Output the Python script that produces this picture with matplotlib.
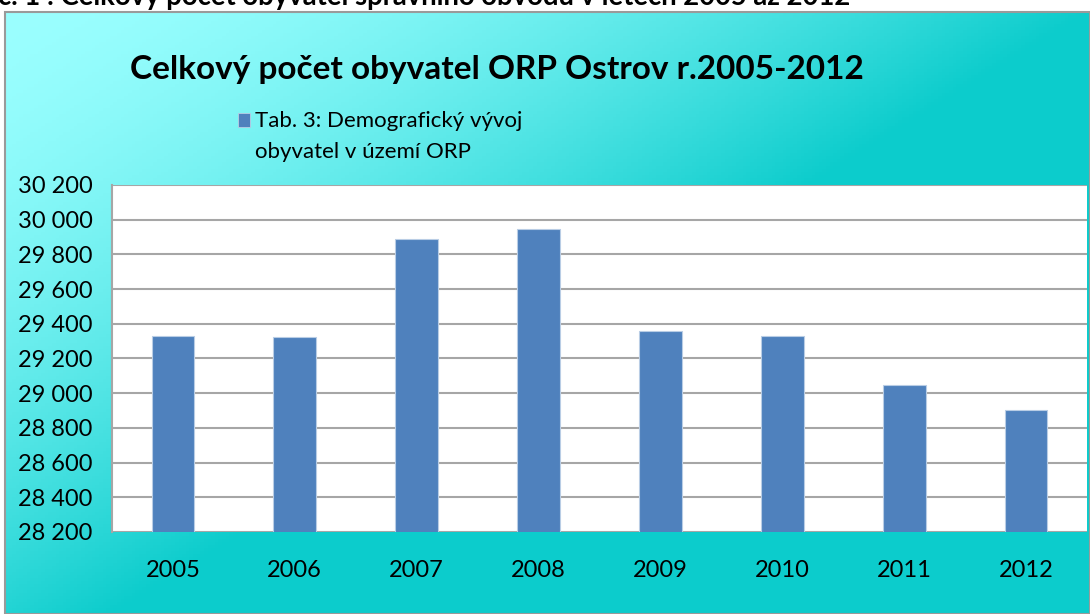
import numpy as np
import matplotlib
matplotlib.use("Agg")
import matplotlib.pyplot as plt
from matplotlib.patches import Rectangle
from matplotlib.ticker import FuncFormatter, MultipleLocator

years = ["2005", "2006", "2007", "2008", "2009", "2010", "2011", "2012"]
population = [29330, 29324, 29887, 29945, 29359, 29330, 29047, 28901]
title = "Celkový počet obyvatel ORP Ostrov r.2005-2012"
legend_lines = ["Tab. 3: Demografický vývoj", "obyvatel v území ORP"]
caption = "č. 1 : Celkový počet obyvatel správního obvodu v letech 2005 až 2012"

plt.rcParams['font.family'] = ['Lato', 'DejaVu Sans']

W, H = 1090, 614
fig = plt.figure(figsize=(W / 100, H / 100), dpi=100)
fig.patch.set_facecolor("white")
BAR_COLOR = "#4F81BD"

# gradient background of chart area
bg = fig.add_axes([5 / W, 0, 1 - 5 / W, 1 - 12 / H])
bg.set_axis_off()
nx, ny = 300, 200
xx, yy = np.meshgrid(np.linspace(0, 1, nx), np.linspace(0, 1, ny))
t = np.clip(1.0 * xx + 0.9 * yy, 0, 1) ** 1.6
c0 = np.array([155, 255, 255]) / 255
c1 = np.array([12, 204, 204]) / 255
img = c0[None, None, :] * (1 - t[..., None]) + c1[None, None, :] * t[..., None]
bg.imshow(img, aspect="auto", extent=[0, 1, 0, 1], origin="upper")
bg.set_xlim(0, 1)
bg.set_ylim(0, 1)
bg.add_patch(Rectangle((0, 0), 1, 1, transform=bg.transAxes, fill=False,
                       edgecolor="#9a9a9a", linewidth=1.5, clip_on=False))

fig.text(-2 / W, 1 - 5 / H, caption, fontsize=19.8, fontweight="bold",
         va="baseline", ha="left", color="black")

ax = fig.add_axes([112 / W, 1 - 532 / H, 975 / W, 347 / H])
ax.set_facecolor("white")
x = np.arange(len(years))
bars = ax.bar(x, population, width=0.35, color=BAR_COLOR, edgecolor="#B9CDE5",
              linewidth=0.8, zorder=3)
ax.set_ylim(28200, 30200)
ax.set_xlim(-0.5, len(years) - 0.5)
ax.yaxis.set_major_locator(MultipleLocator(200))
ax.yaxis.set_major_formatter(FuncFormatter(lambda v, p: f"{int(round(v)):,}".replace(",", " ")))
ax.grid(axis="y", color="#A6A6A6", linewidth=1.5, zorder=0)
ax.set_xticks(x)
ax.set_xticklabels(years)
for s in ["top", "right", "bottom"]:
    ax.spines[s].set_visible(False)
ax.spines["left"].set_color("#A6A6A6")
ax.spines["left"].set_linewidth(1.5)
ax.tick_params(axis="both", length=0, labelsize=17, colors="black")
ax.tick_params(axis="y", pad=14)
ax.tick_params(axis="x", pad=20)

fig.text(497 / W, 1 - 70 / H, title, fontsize=24, fontweight="bold",
         ha="center", va="center", color="black")

# legend drawn manually (marker aligned with first line)
fig.patches.append(Rectangle((238 / W, 1 - 127 / H), 12 / W, 14 / H,
                             transform=fig.transFigure, facecolor=BAR_COLOR,
                             edgecolor="#B9CDE5", linewidth=0.6))
fig.text(255 / W, 1 - 127 / H, legend_lines[0], fontsize=16,
         ha="left", va="baseline", color="black")
fig.text(255 / W, 1 - 158 / H, legend_lines[1], fontsize=16,
         ha="left", va="baseline", color="black")

fig.savefig("out.png", dpi=100)
